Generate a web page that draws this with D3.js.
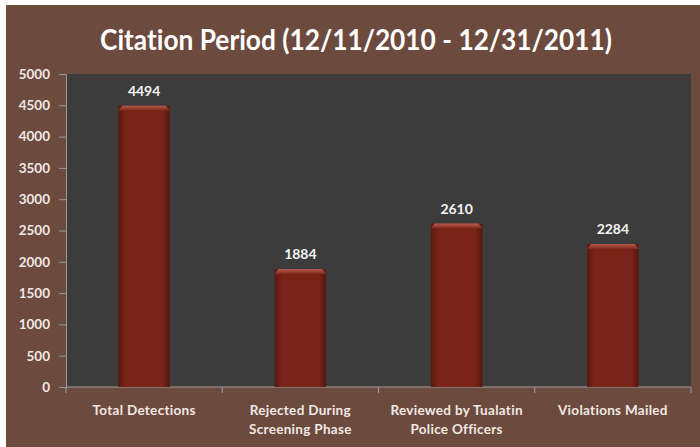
<!DOCTYPE html>
<html>
<head>
<meta charset="utf-8">
<script src="https://cdn.jsdelivr.net/npm/d3@7"></script>
<style>
  html, body { margin: 0; padding: 0; background: #ffffff; }
  svg { display: block; }
  text { font-variant-ligatures: none; }
</style>
</head>
<body>
<svg id="chart"></svg>
<script>
// data
const categories = [
  ["Total Detections"],
  ["Rejected During", "Screening Phase"],
  ["Reviewed by Tualatin", "Police Officers"],
  ["Violations Mailed"]
]
const counts = [4494, 1884, 2610, 2284]
const yTicks = [0, 500, 1000, 1500, 2000, 2500, 3000, 3500, 4000, 4500, 5000]
const title = "Citation Period (12/11/2010 - 12/31/2011)"

const width = 700
const height = 447
const margin = {top: 74, right: 9, bottom: 60, left: 66}
const innerW = width - margin.left - margin.right
const innerH = height - margin.top - margin.bottom
const font = "Lato, 'Open Sans', sans-serif"

const svg = d3.select("#chart")
    .attr("width", width)
    .attr("height", height)

const defs = svg.append("defs")
const grad = defs.append("linearGradient")
    .attr("id", "barGrad")
    .attr("x1", "0").attr("x2", "1").attr("y1", "0").attr("y2", "0")
grad.append("stop").attr("offset", "0%").attr("stop-color", "#5a1810")
grad.append("stop").attr("offset", "15%").attr("stop-color", "#7a2419")
grad.append("stop").attr("offset", "85%").attr("stop-color", "#7a2419")
grad.append("stop").attr("offset", "100%").attr("stop-color", "#571710")

const capGrad = defs.append("linearGradient")
    .attr("id", "capGrad")
    .attr("x1", "0").attr("x2", "0").attr("y1", "0").attr("y2", "1")
capGrad.append("stop").attr("offset", "0%").attr("stop-color", "#b75a4c")
capGrad.append("stop").attr("offset", "100%").attr("stop-color", "#7d271b")

// brown frame
svg.append("rect")
    .attr("x", 6).attr("y", 5)
    .attr("width", width - 6).attr("height", height - 5)
    .attr("fill", "#6c4a3d")

svg.append("text")
    .attr("x", 100)
    .attr("y", 50)
    .attr("textLength", 512)
    .attr("lengthAdjust", "spacingAndGlyphs")
    .attr("font-family", font)
    .attr("font-weight", "bold")
    .attr("font-size", 29)
    .attr("fill", "#ffffff")
    .text(title)

const g = svg.append("g")
    .attr("transform", "translate(" + margin.left + "," + margin.top + ")")

g.append("rect")
    .attr("width", innerW)
    .attr("height", innerH)
    .attr("fill", "#3c3c3c")

const x = d3.scaleBand()
    .domain(d3.range(categories.length))
    .range([0, innerW])
    .paddingInner(0.67)
    .paddingOuter(0.335)

const y = d3.scaleLinear()
    .domain([0, 5000])
    .range([innerH, 0])

// y axis
const yAxis = g.append("g")
    .call(d3.axisLeft(y).tickValues(yTicks).tickFormat(d3.format("d")).tickSize(7).tickPadding(9))
yAxis.select(".domain").attr("stroke", "#9a9a9a")
yAxis.selectAll(".tick line").attr("stroke", "#9a9a9a")
yAxis.selectAll(".tick text")
    .attr("fill", "#f0e8e4")
    .attr("font-family", font)
    .attr("font-weight", "bold")
    .attr("font-size", 13.5)

// x axis line and category separators
const xAxis = g.append("g").attr("transform", "translate(0," + innerH + ")")
xAxis.append("line")
    .attr("x1", 0).attr("x2", innerW)
    .attr("stroke", "#a0a0a0")
xAxis.selectAll("line.sep")
    .data(d3.range(categories.length + 1))
    .enter()
    .append("line")
    .attr("class", "sep")
    .attr("x1", (d) => d * x.step())
    .attr("x2", (d) => d * x.step())
    .attr("y1", 0).attr("y2", 6)
    .attr("stroke", "#a0a0a0")

const labels = xAxis.selectAll("text.cat")
    .data(categories)
    .enter()
    .append("text")
    .attr("class", "cat")
    .attr("x", (d, i) => x(i) + x.bandwidth() / 2)
    .attr("y", 28)
    .attr("text-anchor", "middle")
    .attr("font-family", font)
    .attr("font-weight", "bold")
    .attr("font-size", 13.5)
    .attr("letter-spacing", 0.3)
    .attr("fill", "#f0e8e4")
labels.selectAll("tspan")
    .data((d) => d)
    .enter()
    .append("tspan")
    .attr("x", function () { return d3.select(this.parentNode).attr("x") })
    .attr("dy", (d, i) => i === 0 ? 0 : 19)
    .text((d) => d)

// bars
const bars = g.selectAll("g.bar")
    .data(counts)
    .enter()
    .append("g")
    .attr("class", "bar")

bars.append("rect")
    .attr("x", (d, i) => x(i))
    .attr("y", (d) => y(d))
    .attr("width", x.bandwidth())
    .attr("height", (d) => innerH - y(d))
    .attr("fill", "url(#barGrad)")

bars.append("path")
    .attr("d", (d, i) => {
        const x0 = x(i), x1 = x(i) + x.bandwidth(), yt = y(d)
        return "M" + x0 + "," + (yt + 5) + "L" + (x0 + 4) + "," + yt +
            "L" + (x1 - 4) + "," + yt + "L" + x1 + "," + (yt + 5) + "Z"
    })
    .attr("fill", "url(#capGrad)")

bars.append("text")
    .attr("x", (d, i) => x(i) + x.bandwidth() / 2)
    .attr("y", (d) => y(d) - 10)
    .attr("text-anchor", "middle")
    .attr("font-family", font)
    .attr("font-weight", "bold")
    .attr("font-size", 14)
    .attr("fill", "#f4f4f4")
    .text((d) => d)
</script>
</body>
</html>
